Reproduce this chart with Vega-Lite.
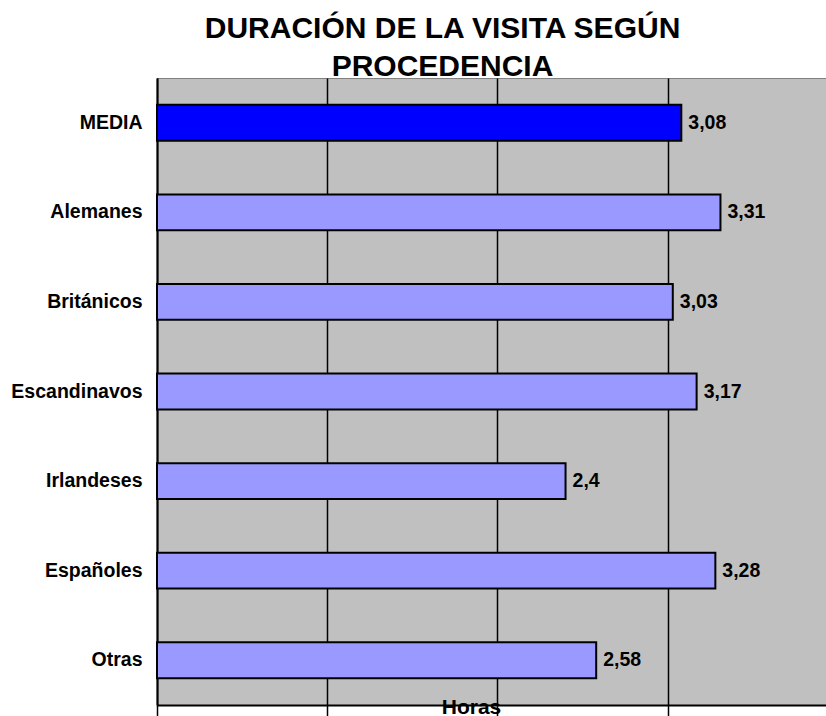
{
  "$schema": "https://vega.github.io/schema/vega-lite/v6.json",
  "autosize": "none",
  "padding": {"left": 157, "top": 78, "right": 0, "bottom": 11},
  "width": 669,
  "height": 627,
  "background": "white",
  "config": {
    "font": "Liberation Sans",
    "locale": {"number": {"decimal": ",", "thousands": ".", "grouping": [3], "currency": ["", " €"]}},
    "view": {"fill": "#C0C0C0", "stroke": "#808080", "strokeWidth": 1}
  },
  "title": {
    "text": ["DURACIÓN DE LA VISITA SEGÚN", "PROCEDENCIA"],
    "fontSize": 30,
    "fontWeight": "bold",
    "font": "Liberation Sans",
    "color": "black",
    "lineHeight": 38,
    "anchor": "middle",
    "dx": -49,
    "offset": -4
  },
  "data": {
    "values": [
      {"procedencia": "MEDIA", "horas": 3.08, "tipo": "media"},
      {"procedencia": "Alemanes", "horas": 3.31, "tipo": "grupo"},
      {"procedencia": "Británicos", "horas": 3.03, "tipo": "grupo"},
      {"procedencia": "Escandinavos", "horas": 3.17, "tipo": "grupo"},
      {"procedencia": "Irlandeses", "horas": 2.4, "tipo": "grupo"},
      {"procedencia": "Españoles", "horas": 3.28, "tipo": "grupo"},
      {"procedencia": "Otras", "horas": 2.58, "tipo": "grupo"}
    ]
  },
  "encoding": {
    "y": {
      "field": "procedencia",
      "type": "nominal",
      "sort": null,
      "scale": {"paddingInner": 0.6, "paddingOuter": 0.3},
      "axis": {
        "title": null,
        "domainColor": "black",
        "domainWidth": 2,
        "ticks": false,
        "labelFont": "Liberation Sans",
        "labelFontSize": 19.5,
        "labelFontWeight": "bold",
        "labelColor": "black",
        "labelPadding": 15,
        "labelLimit": 200
      }
    },
    "x": {
      "field": "horas",
      "type": "quantitative",
      "scale": {"domain": [0, 3.93], "nice": false, "zero": true},
      "axis": {
        "title": "Horas",
        "titleFont": "Liberation Sans",
        "titleFontSize": 21,
        "titleFontWeight": "bold",
        "titleColor": "black",
        "titleX": 314,
        "titleY": 8,
        "titleBaseline": "alphabetic",
        "values": [0, 1, 2, 3],
        "labels": false,
        "ticks": true,
        "tickSize": 11,
        "tickColor": "black",
        "tickWidth": 1.5,
        "domainColor": "black",
        "domainWidth": 2,
        "grid": true,
        "gridColor": "black",
        "gridWidth": 1.5,
        "gridOpacity": 1
      }
    }
  },
  "layer": [
    {
      "mark": {"type": "bar", "stroke": "black", "strokeWidth": 2},
      "encoding": {
        "color": {
          "field": "tipo",
          "type": "nominal",
          "scale": {"domain": ["media", "grupo"], "range": ["#0000FF", "#9999FF"]},
          "legend": null
        }
      }
    },
    {
      "mark": {"type": "text", "align": "left", "baseline": "middle", "dx": 7, "font": "Liberation Sans", "fontSize": 19.5, "fontWeight": "bold", "color": "black"},
      "encoding": {
        "text": {"field": "horas", "type": "quantitative", "format": ".3~g"}
      }
    }
  ]
}
